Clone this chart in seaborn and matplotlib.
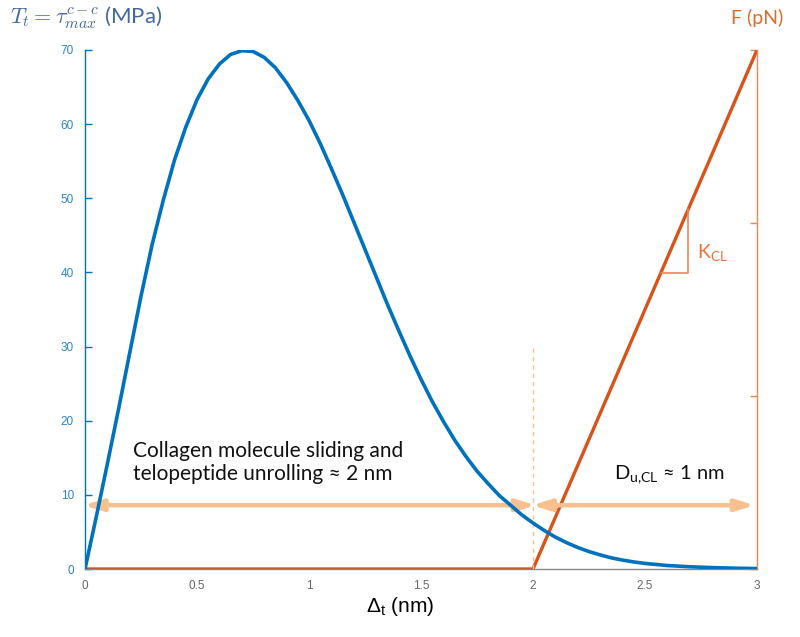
import numpy as np
import pandas as pd
import matplotlib
matplotlib.use("Agg")
import matplotlib.pyplot as plt
import seaborn as sns

# -----------------------------
# Data
# -----------------------------
delta = [0.0, 0.05, 0.1, 0.15, 0.2, 0.25, 0.3, 0.35, 0.4, 0.45, 0.5,
         0.55, 0.6, 0.65, 0.7, 0.75, 0.8, 0.85, 0.9, 0.95, 1.0,
         1.05, 1.1, 1.15, 1.2, 1.25, 1.3, 1.35, 1.4, 1.45, 1.5,
         1.55, 1.6, 1.65, 1.7, 1.75, 1.8, 1.85, 1.9, 1.95, 2.0,
         2.05, 2.1, 2.15, 2.2, 2.25, 2.3, 2.35, 2.4, 2.45, 2.5,
         2.6, 2.7, 2.8, 2.9, 3.0]
traction = [0.0, 7.0, 14.2, 21.6, 29.2, 36.8, 43.8, 49.8, 55.2, 59.6, 63.3,
            66.1, 68.1, 69.4, 69.9, 69.8, 69.0, 67.6, 65.6, 63.2, 60.5,
            57.4, 54.0, 50.5, 46.8, 43.1, 39.4, 35.7, 32.2, 28.8, 25.6,
            22.6, 19.9, 17.4, 15.2, 13.2, 11.5, 9.9, 8.6, 7.3, 6.2,
            5.2, 4.3, 3.55, 2.9, 2.35, 1.9, 1.5, 1.2, 0.95, 0.75,
            0.47, 0.3, 0.19, 0.11, 0.06]

force_x = [0.0, 2.0, 3.0]
force_y = [0.0, 0.0, 3.0]

x_ticks = [0, 0.5, 1, 1.5, 2, 2.5, 3]
x_ticklabels = ["0", "0.5", "1", "1.5", "2", "2.5", "3"]
y_ticks = [0, 10, 20, 30, 40, 50, 60, 70]
f_ticks = [0, 1, 2, 3]

df_t = pd.DataFrame({"delta": delta, "T": traction})
df_f = pd.DataFrame({"delta": force_x, "F": force_y})

# -----------------------------
# Colours
# -----------------------------
BLUE = "#0072BD"
ORANGE = "#D95319"
BLUE_TXT = "#2E84C6"
LABEL_BLUE = "#44689E"
AXIS_ORANGE = "#F0845A"
PEACH = "#F9C08F"
GREY = "#666666"

sns.set_style("white")
plt.rcParams["font.family"] = ["Lato", "DejaVu Sans"]
plt.rcParams["mathtext.fontset"] = "cm"

fig = plt.figure(figsize=(8, 6.37), dpi=100)
ax = fig.add_axes([0.10625, 0.10675, 0.84, 0.8148])
ax2 = ax.twinx()

# right axis (force)
sns.lineplot(data=df_f, x="delta", y="F", ax=ax2, color=ORANGE, lw=2.4)
ax2.set_ylim(0, 3)
ax2.set_yticks(f_ticks)
ax2.set_yticklabels([])
ax2.set_ylabel("")
ax2.tick_params(axis="y", direction="in", length=5, color=AXIS_ORANGE, width=1)
for s in ["top", "left", "bottom"]:
    ax2.spines[s].set_visible(False)
ax2.spines["right"].set_color(AXIS_ORANGE)
ax2.spines["right"].set_linewidth(1)

# left axis (traction)
sns.lineplot(data=df_t, x="delta", y="T", ax=ax, color=BLUE, lw=2.6, zorder=5)
ax.set_zorder(ax2.get_zorder() + 1)
ax.patch.set_visible(False)
ax.set_xlim(0, 3)
ax.set_ylim(0, 70)
ax.set_xticks(x_ticks)
ax.set_xticklabels(x_ticklabels)
ax.set_yticks(y_ticks)
ax.set_xlabel("")
ax.set_ylabel("")
ax.tick_params(axis="y", direction="in", length=5, color=BLUE, width=1,
               labelcolor=BLUE_TXT, labelsize=8.5, pad=8)
ax.tick_params(axis="x", direction="in", length=5, color=GREY, width=1,
               labelcolor=GREY, labelsize=8.5, pad=8)
for s in ["top", "right"]:
    ax.spines[s].set_visible(False)
ax.spines["left"].set_color(BLUE)
ax.spines["left"].set_linewidth(1)
ax.spines["bottom"].set_color("#888888")
ax.spines["bottom"].set_linewidth(1)
for lab in ax.get_xticklabels() + ax.get_yticklabels():
    lab.set_family(["Liberation Sans", "DejaVu Sans"])

# dashed marker at 2 nm
ax.plot([2, 2], [0, 30.2], ls=(0, (3, 3)), color=PEACH, lw=1)

# double arrows
arrow = dict(arrowstyle="<|-|>,head_length=0.65,head_width=0.2", color=PEACH,
             lw=3.2, mutation_scale=17, shrinkA=0, shrinkB=0)
ax.annotate("", xy=(2.012, 8.6), xytext=(-0.006, 8.6), arrowprops=arrow)
ax.annotate("", xy=(2.99, 8.6), xytext=(1.995, 8.6), arrowprops=arrow)

ax.text(0.215, 11.4, "Collagen molecule sliding and\ntelopeptide unrolling \u2248 2 nm",
        fontsize=15, color="#111111", va="bottom", ha="left", linespacing=1.2)
ax.text(2.36, 11.2, "$\\mathregular{D_{u{,}CL}}$ \u2248 1 nm", fontsize=14.5,
        color="#111111", va="bottom", ha="left")

# stiffness triangle
ax.plot([2.57, 2.693, 2.693], [39.9, 39.9, 48.5], color=AXIS_ORANGE, lw=1.2)
ax.text(2.73, 41.3, "$\\mathregular{K_{CL}}$", fontsize=14, color="#E8743A",
        va="bottom", ha="left")

# axis titles
fig.text(0.012, 0.972, "$T_t = \\tau_{max}^{c\u2212c}$ (MPa)", fontsize=16,
         color=LABEL_BLUE, ha="left", va="center")
fig.text(0.946, 0.972, "F (pN)", fontsize=14, color="#E06A2A",
         ha="center", va="center")
fig.text(0.5, 0.048, "$\\mathregular{\\Delta_t}$ (nm)", fontsize=15, color="black",
         ha="center", va="center", family=["Liberation Sans", "DejaVu Sans"])

fig.savefig("out.png", dpi=100)
